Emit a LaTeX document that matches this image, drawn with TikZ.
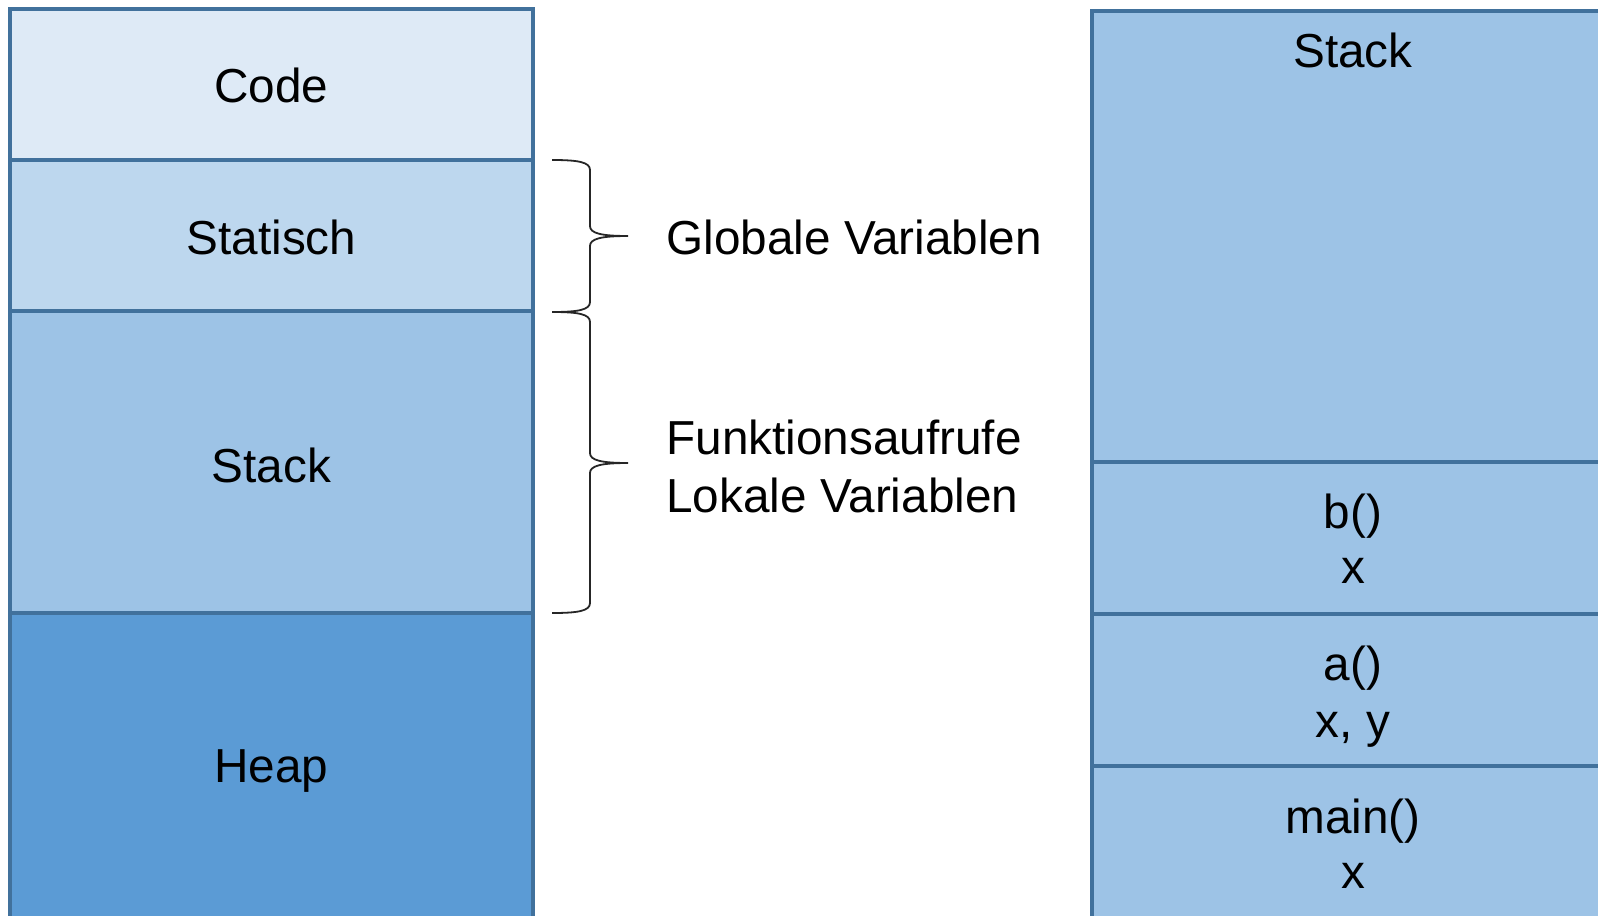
\documentclass[tikz,border=0pt]{standalone}
\usepackage{fontspec}
\setmainfont{Liberation Sans}
\definecolor{bcode}{HTML}{DEEAF6}
\definecolor{bstat}{HTML}{BDD7EE}
\definecolor{bstack}{HTML}{9DC3E6}
\definecolor{bheap}{HTML}{5B9BD5}
\definecolor{bline}{HTML}{41719C}
\begin{document}
\begin{tikzpicture}[x=0.5pt,y=-0.5pt,
  seg/.style={draw=bline, line width=1.6pt, minimum width=261.5pt, inner sep=0pt, outer sep=0pt},
  rseg/.style={seg, fill=bstack, minimum width=261pt},
  lbl/.style={font=\fontsize{23.85pt}{28pt}\selectfont, inner sep=0pt, anchor=base},
  side/.style={lbl, anchor=base west},
  brace/.style={draw=black!85, line width=0.9pt}]
\useasboundingbox (0,0) rectangle (1598,915);
\clip (0,0) rectangle (1598,915);
% left memory layout
\node[seg, fill=bcode,  minimum height=75.5pt] (code)  at (271.5,84.5) {};
\node[seg, fill=bstat,  minimum height=75.5pt] (stat)  at (271.5,235.5) {};
\node[seg, fill=bstack, minimum height=151pt]  (stack) at (271.5,462) {};
\node[seg, fill=bheap,  minimum height=153pt]  (heap)  at (271.5,766) {};
\node[lbl] (codet)  at (271.5,102.5) {Code};
\node[lbl] (statt)  at (271.5,254.5) {Statisch};
\node[lbl] (stackt) at (271.5,482) {Stack};
\node[lbl] (heapt)  at (271.5,782) {Heap};
% braces
\draw[brace] (552,160) .. controls (578,160) and (590,162) .. (590,170) -- (590,226)
  .. controls (590,233) and (600,236) .. (628,236)
  .. controls (600,236) and (590,239) .. (590,246) -- (590,302)
  .. controls (590,310) and (578,312) .. (552,312);
\draw[brace] (552,312) .. controls (578,312) and (590,314) .. (590,322) -- (590,453)
  .. controls (590,460) and (600,463) .. (628,463)
  .. controls (600,463) and (590,466) .. (590,473) -- (590,603)
  .. controls (590,611) and (578,613) .. (552,613);
\node[side] (glob) at (666,254) {Globale Variablen};
\node[side] (funk) at (666,454) {Funktionsaufrufe};
\node[side] (lok)  at (666,512) {Lokale Variablen};
% right stack
\node[rseg, minimum height=225.5pt] (rstack) at (1353,236.5) {};
\node[rseg, minimum height=76pt] (rb)    at (1353,538) {};
\node[rseg, minimum height=76pt] (ra)    at (1353,690) {};
\node[rseg, minimum height=76pt] (rmain) at (1353,842) {};
\node[lbl] (rstackt) at (1353,68) {Stack};
\node[lbl] (rb1) at (1353,528) {b()};
\node[lbl] (rb2) at (1353,583) {x};
\node[lbl] (ra1) at (1353,680) {a()};
\node[lbl] (ra2) at (1353,737) {x, y};
\node[lbl] (rm1) at (1353,833) {main()};
\node[lbl] (rm2) at (1353,888) {x};
\end{tikzpicture}
\end{document}
